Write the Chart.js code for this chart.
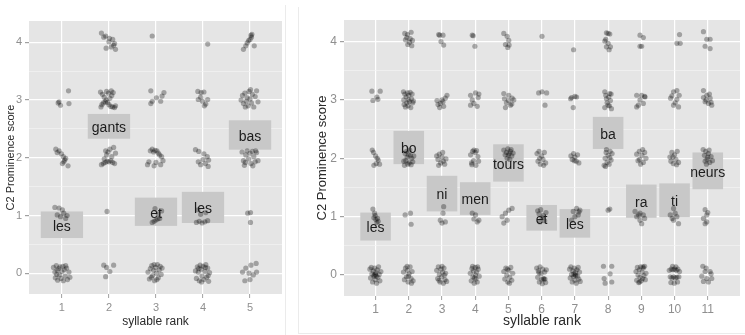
<!DOCTYPE html>
<html>
<head>
<meta charset="utf-8">
<script src="https://cdn.jsdelivr.net/npm/chart.js@4.4.0/dist/chart.umd.min.js"></script>
<style>
  body { margin: 0; background: #fff; width: 745px; height: 335px; position: relative; overflow: hidden; }
  .panel { position: absolute; top: 0; height: 335px; }
  #leftBox { left: 0; width: 286px; }
  #rightBox { left: 298px; width: 447px; }
  .rule { position: absolute; background: #ebebeb; }
</style>
</head>
<body>
<div class="panel" id="leftBox"><canvas id="left"></canvas></div>
<div class="panel" id="rightBox"><canvas id="right"></canvas></div>
<div class="rule" style="left:285px;top:5px;width:1px;height:330px"></div>
<div class="rule" style="left:298px;top:7px;width:1px;height:326px"></div>
<div class="rule" style="left:298px;top:333px;width:447px;height:1px"></div>
<script>
// tick values
var leftRanks = [1, 2, 3, 4, 5];
var rightRanks = [1, 2, 3, 4, 5, 6, 7, 8, 9, 10, 11];
var scoreTicks = [0, 1, 2, 3, 4];

// jittered observations [syllable rank, score] - left figure
var leftPoints = [
  // rank 1
  [0.82,0.10],[0.85,0.02],[0.86,-0.08],[0.88,0.13],[0.90,0.05],[0.91,-0.12],[0.93,0.08],[0.95,-0.03],[0.96,0.11],[0.98,-0.09],
  [1.00,0.03],[1.02,0.12],[1.03,-0.13],[1.05,0.06],[1.07,-0.05],[1.10,0.09],[1.12,-0.11],[1.15,0.02],[1.17,-0.07],[0.89,-0.02],[1.08,0.13],
  [0.85,1.14],[0.94,1.13],[1.01,1.10],[1.04,1.04],[0.97,0.98],[1.08,0.95],[0.90,1.01],[1.11,1.00],
  [0.87,2.15],[0.94,2.12],[0.99,2.07],[1.03,2.02],[1.06,1.96],[1.01,1.90],[1.13,1.86],[0.90,2.09],[1.08,1.99],[1.04,1.93],
  [0.94,2.97],[0.97,2.91],[1.14,3.16],[1.15,2.94],[0.92,2.95],
  // rank 2
  [1.89,0.14],[1.95,0.10],[2.10,0.14],[1.93,-0.06],[2.02,0.03],
  [1.96,1.07],
  [1.84,1.88],[1.88,1.90],[1.92,1.92],[1.96,1.94],[2.00,1.93],[2.04,1.95],[2.08,1.92],[2.12,1.90],[1.95,2.05],[1.98,2.10],
  [2.02,2.15],[2.10,2.18],[1.93,2.12],[2.06,2.02],[1.90,1.98],[2.14,2.08],
  [1.82,3.14],[1.86,3.10],[1.90,3.05],[1.94,3.00],[1.97,2.96],[2.00,2.92],[2.04,2.89],[2.08,2.88],[2.12,2.87],[1.85,2.92],
  [1.88,2.95],[1.92,2.97],[2.02,3.03],[2.06,3.08],[2.09,3.13],[1.95,3.15],[1.99,3.12],[2.14,2.90],[1.83,2.88],[2.05,3.16],
  [1.84,4.16],[1.93,4.11],[2.01,4.07],[2.08,4.05],[2.00,4.01],[2.12,3.98],[2.05,3.92],[1.94,3.90],[2.14,3.88],[2.10,3.95],[1.89,4.09],
  // rank 3
  [2.83,0.02],[2.86,-0.10],[2.88,0.08],[2.91,0.13],[2.93,-0.04],[2.95,0.05],[2.97,-0.13],[2.99,0.10],[3.01,0.00],[3.03,0.15],
  [3.05,-0.08],[3.07,0.06],[3.09,0.12],[3.11,-0.02],[3.13,0.09],[2.96,0.15],[3.02,-0.11],[2.90,-0.07],
  [2.92,0.88],[2.96,0.90],[3.00,0.92],[3.04,0.94],[3.08,0.95],[3.12,1.08],[2.98,1.12],[3.05,1.03],
  [2.82,1.88],[2.85,1.93],[2.88,2.12],[2.92,2.15],[2.95,2.10],[2.98,2.13],[3.02,2.12],[3.05,2.08],[3.08,2.05],[3.12,2.02],
  [3.15,1.95],[3.10,1.88],[2.96,1.86],[3.00,1.92],
  [2.89,3.16],[2.92,2.98],[2.89,2.94],[3.01,3.04],[3.10,2.98],[3.13,3.07],[3.17,3.13],
  [2.92,4.11],
  // rank 4
  [3.84,0.04],[3.86,-0.09],[3.88,0.11],[3.90,0.02],[3.92,-0.13],[3.94,0.14],[3.96,0.07],[3.98,-0.05],[4.00,0.12],[4.02,-0.11],
  [4.04,0.03],[4.06,0.15],[4.08,-0.07],[4.10,0.09],[4.12,-0.14],[4.14,0.01],[3.97,-0.15],[4.05,0.10],[3.91,0.08],[4.11,-0.04],
  [3.86,0.88],[3.92,0.90],[3.98,0.87],[4.04,0.89],[4.10,0.91],[3.95,1.02],[4.06,1.05],[3.89,1.10],
  [3.84,2.14],[3.91,2.11],[4.02,2.07],[4.09,2.02],[4.12,1.96],[4.05,1.90],[3.95,1.88],[3.90,1.93],[4.11,1.85],[4.00,1.97],
  [3.89,3.15],[3.96,3.13],[4.02,3.14],[3.90,3.01],[3.99,2.98],[4.06,2.93],[4.10,3.01],[3.95,3.05],[4.03,2.90],
  [4.10,3.97],
  // rank 5
  [4.84,0.02],[4.91,0.09],[4.98,0.00],[5.02,0.14],[5.13,0.17],[5.14,0.02],[4.89,-0.13],[5.00,-0.11],[5.07,-0.03],
  [4.95,1.04],[5.01,1.05],[5.01,0.88],
  [4.83,2.10],[4.86,1.95],[4.88,1.87],[4.91,2.05],[4.94,2.12],[4.97,1.98],[5.00,2.08],[5.02,1.90],[5.05,2.11],[5.08,2.02],
  [5.11,1.93],[5.14,2.09],[5.17,1.95],[4.90,1.92],[5.06,1.86],[5.12,2.12],
  [4.81,3.00],[4.84,3.08],[4.86,2.94],[4.89,3.12],[4.92,2.98],[4.94,3.04],[4.96,2.90],[4.98,3.15],[5.00,3.02],[5.03,2.95],
  [5.05,3.10],[5.08,2.88],[5.11,3.06],[5.14,3.16],[5.17,2.97],[4.90,2.88],[5.01,3.18],
  [4.86,3.88],[4.91,3.94],[4.94,3.99],[4.97,4.03],[5.00,4.05],[5.03,4.09],[5.04,4.14],[5.02,4.12],[5.09,3.94]
];

// jittered observations [syllable rank, score] - right figure
var rightPoints = [
  // rank 1
  [0.83,0.10],[0.85,-0.05],[0.87,0.13],[0.89,0.02],[0.91,-0.12],[0.93,0.07],[0.95,-0.02],[0.97,0.12],[0.99,-0.08],[1.01,0.04],
  [1.03,-0.14],[1.05,0.09],[1.07,-0.04],[1.09,0.14],[1.11,0.01],[1.13,-0.10],[1.16,0.06],[0.96,0.00],[1.00,0.01],[1.02,-0.02],
  [0.92,1.13],[0.97,1.06],[0.95,0.98],[1.01,0.95],[1.04,0.90],[1.08,0.92],[0.99,1.02],[1.06,0.97],
  [0.90,2.14],[0.94,2.10],[1.00,2.04],[1.08,1.97],[1.02,1.91],[0.95,1.88],[1.12,1.90],[1.05,2.00],
  [0.89,3.15],[1.14,3.15],[1.04,3.05],[0.92,2.99],[1.07,3.01],
  // rank 2
  [1.84,0.05],[1.87,-0.08],[1.90,0.12],[1.93,-0.03],[1.96,0.08],[1.98,-0.12],[2.01,0.02],[2.04,0.14],[2.07,-0.06],[2.10,0.06],
  [2.13,-0.10],[1.95,0.15],[2.08,-0.14],[1.99,-0.02],
  [1.89,1.03],[2.05,1.06],[2.07,0.87],
  [1.85,1.95],[1.89,2.08],[1.93,2.12],[1.97,1.90],[2.01,1.92],[2.05,2.05],[2.09,2.00],[2.12,1.94],[1.87,1.88],[1.95,2.02],
  [2.03,2.14],[2.07,1.89],[1.91,1.96],[1.99,2.06],[2.15,2.04],
  [1.84,3.14],[1.88,3.10],[1.92,3.05],[1.96,3.12],[2.00,3.08],[2.04,3.13],[2.08,3.02],[2.12,2.95],[1.86,2.92],[1.90,2.88],
  [1.94,2.95],[1.98,2.90],[2.02,2.97],[2.06,2.87],[2.10,3.10],[1.85,3.00],[2.14,2.98],[1.99,3.00],
  [1.88,4.14],[1.96,4.12],[2.07,4.16],[1.90,4.03],[2.04,4.05],[1.97,3.95],[2.09,3.93],[2.02,3.99],[1.94,4.07],[2.11,4.02],
  // rank 3
  [2.84,0.08],[2.87,-0.06],[2.89,0.14],[2.92,0.01],[2.94,-0.12],[2.97,0.10],[2.99,-0.03],[3.02,0.05],[3.04,-0.14],[3.06,0.12],
  [3.09,-0.08],[3.11,0.03],[3.14,-0.11],[2.91,-0.09],[3.00,0.15],[3.07,0.00],
  [3.05,1.17],[3.03,1.06],[2.95,0.94],[3.10,0.91],[3.00,0.89],
  [2.84,2.04],[2.88,1.98],[2.92,2.07],[2.96,1.92],[3.00,2.02],[3.04,1.95],[3.08,1.90],[3.12,1.99],[2.90,1.88],[3.02,2.10],
  [2.85,2.99],[2.95,2.94],[3.03,2.97],[3.10,3.03],[3.05,2.89],[2.93,2.87],[3.15,3.08],[2.88,2.92],[3.00,3.00],
  [2.90,4.12],[3.03,4.11],[2.97,4.00],[3.05,3.94],[2.93,4.11],
  // rank 4
  [3.85,0.03],[3.88,-0.10],[3.90,0.11],[3.93,-0.03],[3.95,0.07],[3.97,-0.14],[4.00,0.13],[4.02,-0.07],[4.04,0.05],[4.06,-0.12],
  [4.09,0.10],[4.12,-0.02],[3.92,0.15],[4.01,0.00],[3.98,-0.05],[4.07,0.14],
  [3.91,1.06],[4.01,1.03],[4.11,0.94],[4.06,0.91],[3.96,0.96],
  [3.86,2.06],[3.89,1.92],[3.92,2.12],[3.96,2.14],[4.00,2.10],[4.04,2.13],[4.08,2.03],[3.95,1.96],[4.02,1.88],[4.10,1.95],[3.90,1.89],
  [3.86,3.08],[4.01,3.12],[4.11,3.10],[3.91,3.00],[3.86,2.91],[4.06,2.89],[3.96,2.94],[4.09,3.04],
  [3.91,4.11],[3.99,3.92],[3.94,4.10],
  // rank 5
  [4.86,0.06],[4.89,-0.07],[4.92,0.12],[4.95,0.00],[4.98,-0.12],[5.01,0.08],[5.04,-0.04],[5.07,0.13],[5.10,-0.09],[5.13,0.03],
  [4.97,0.10],[5.03,-0.14],
  [4.81,1.00],[4.91,1.06],[5.01,1.11],[5.11,1.14],[4.86,0.89],[4.96,0.94],
  [4.86,2.14],[4.90,2.06],[4.94,2.10],[4.98,2.16],[5.02,2.08],[5.06,2.12],[5.10,2.04],[5.14,2.09],[4.96,2.00],[5.04,1.98],
  [5.00,2.05],[5.08,2.15],
  [4.86,3.11],[5.01,3.08],[5.11,3.03],[5.16,3.00],[4.94,2.95],[5.06,2.91],[4.91,2.87],[5.00,2.99],[5.10,2.93],[4.88,3.02],
  [4.86,4.14],[4.96,4.09],[5.01,4.02],[4.91,3.95],[4.98,3.90],[5.02,3.94],
  // rank 6
  [5.85,0.12],[5.88,-0.04],[5.90,0.07],[5.93,-0.12],[5.95,0.14],[5.98,0.02],[6.00,-0.08],[6.03,0.10],[6.05,-0.06],[6.07,-0.07],
  [6.09,0.05],[6.12,-0.13],[6.14,0.09],[5.92,0.04],[6.02,-0.15],[6.10,-0.07],
  [5.88,1.10],[5.92,1.05],[5.97,1.12],[6.01,0.98],[6.05,1.02],[6.09,0.93],[6.13,1.07],[5.95,0.91],
  [5.86,2.08],[5.89,1.95],[5.92,2.12],[5.96,1.90],[6.00,2.04],[6.04,1.98],[6.08,2.10],[6.12,1.92],[5.94,2.00],[6.06,1.88],
  [5.91,3.12],[6.01,3.14],[6.15,3.12],[6.10,2.91],
  [6.01,4.09],
  // rank 7
  [6.84,0.10],[6.86,-0.05],[6.88,0.14],[6.90,0.01],[6.92,-0.12],[6.94,0.07],[6.96,-0.03],[6.98,0.12],[7.00,-0.09],[7.02,0.04],
  [7.04,-0.14],[7.06,0.09],[7.08,-0.02],[7.10,0.13],[7.12,-0.07],[7.14,0.05],[7.16,-0.11],[6.97,0.02],[7.03,-0.01],[7.01,0.00],
  [7.05,1.14],[7.15,1.11],[6.95,1.09],[7.10,1.03],[7.00,1.00],[6.90,0.94],[7.12,1.08],
  [6.88,2.04],[6.92,1.98],[6.96,2.08],[7.00,2.02],[7.04,1.95],[7.08,2.06],[7.12,1.92],[6.98,1.96],
  [6.90,3.04],[7.00,3.06],[6.95,2.87],[6.87,3.02],[7.05,3.05],
  [6.96,3.86],
  // rank 8
  [7.86,0.15],[8.11,0.15],[8.06,0.02],[7.88,-0.06],[8.11,-0.12],[7.91,-0.14],
  [8.05,1.13],[8.00,1.11],
  [7.88,1.88],[7.91,2.00],[7.94,2.10],[7.97,1.93],[8.00,2.05],[8.03,1.90],[8.06,2.12],[8.09,1.97],[8.12,2.08],[7.95,2.15],
  [8.05,2.01],[7.92,1.86],
  [7.90,3.14],[8.05,3.11],[7.95,3.02],[8.07,2.99],[8.00,2.91],[7.90,2.87],[8.10,2.85],[7.93,3.08],[8.02,3.05],[8.09,3.10],
  [7.97,2.95],[8.04,2.90],
  [7.95,4.15],[8.05,4.13],[8.00,4.14],[7.90,4.01],[8.00,3.97],[8.07,3.91],[7.95,3.91],[8.03,3.86],[7.93,4.04],
  // rank 9
  [8.84,0.06],[8.86,-0.09],[8.88,0.13],[8.90,0.00],[8.92,-0.13],[8.94,0.09],[8.96,-0.04],[8.98,0.14],[9.00,-0.10],[9.02,0.05],
  [9.04,-0.06],[9.06,0.12],[9.08,-0.01],[9.10,0.15],[9.12,-0.08],[9.14,0.03],[8.95,-0.12],[9.05,0.14],
  [8.81,1.09],[8.96,1.06],[9.06,1.03],[8.86,1.00],[8.96,0.94],[9.01,0.88],[9.10,0.97],[8.92,1.03],
  [8.86,2.07],[8.90,1.96],[8.94,2.12],[8.98,1.90],[9.02,2.05],[9.06,1.93],[9.10,2.10],[9.14,2.00],[8.95,1.98],[9.04,2.15],
  [8.86,3.08],[9.01,3.08],[9.11,3.05],[8.96,3.00],[8.91,2.91],[8.86,2.88],[9.06,2.94],[9.10,3.06],
  [8.96,4.11],[9.06,4.07],[8.96,3.92],[9.01,3.92],
  // rank 10
  [9.84,0.08],[9.87,-0.03],[9.90,0.10],[9.92,-0.05],[9.95,0.09],[9.97,-0.03],[10.00,0.10],[10.02,-0.05],[10.05,0.08],[10.07,-0.04],
  [10.10,0.10],[10.13,-0.03],[9.89,-0.13],[9.99,-0.14],[10.09,-0.12],[9.94,0.15],[10.04,0.14],[10.15,0.06],
  [9.97,1.14],[9.87,1.03],[10.07,1.00],[9.97,0.94],[10.12,0.88],[10.02,1.06],[9.93,0.97],
  [9.86,2.02],[9.89,1.95],[9.92,2.10],[9.96,1.91],[10.00,2.06],[10.04,1.98],[10.08,2.12],[10.12,1.93],[9.95,2.02],[10.06,1.89],
  [9.97,3.14],[10.07,3.16],[9.92,3.07],[10.07,3.01],[9.97,2.91],[10.12,2.88],[9.88,3.03],[10.14,3.08],[10.02,2.95],
  [10.15,4.12],[10.07,3.97],[10.17,3.97],
  // rank 11
  [10.85,0.15],[10.92,0.06],[11.07,0.06],[10.82,-0.02],[10.97,-0.06],[11.12,-0.06],[10.87,-0.11],[11.02,-0.12],[10.95,0.12],[11.10,0.02],
  [10.92,1.12],[10.97,1.03],[10.87,0.97],[10.97,0.91],[10.92,0.88],[11.00,1.07],
  [10.86,2.15],[10.90,2.05],[10.94,2.12],[10.98,1.98],[11.02,2.08],[11.06,1.93],[11.10,2.03],[11.14,1.96],[10.96,1.90],[11.04,2.14],
  [10.92,1.95],[11.00,2.02],
  [10.87,3.16],[10.97,3.08],[11.07,3.03],[10.92,2.97],[11.02,2.94],[11.12,2.91],[10.87,3.04],[11.05,3.10],[10.95,3.00],[11.10,2.96],
  [10.87,4.17],[10.97,4.04],[11.07,4.04],[10.92,3.92],[11.07,3.88]
];

// syllable labels: rank, and the score span of the box behind each word
var leftWords = [
  { text: 'les',   x: 1, lo: 0.61, hi: 1.07 },
  { text: 'gants', x: 2, lo: 2.33, hi: 2.76 },
  { text: 'et',    x: 3, lo: 0.82, hi: 1.31 },
  { text: 'les',   x: 4, lo: 0.87, hi: 1.41 },
  { text: 'bas',   x: 5, lo: 2.14, hi: 2.65 }
];
var rightWords = [
  { text: 'les',   x: 1,  lo: 0.59, hi: 1.07 },
  { text: 'bo',    x: 2,  lo: 1.90, hi: 2.47 },
  { text: 'ni',    x: 3,  lo: 1.09, hi: 1.70 },
  { text: 'men',   x: 4,  lo: 1.03, hi: 1.59 },
  { text: 'tours', x: 5,  lo: 1.60, hi: 2.24 },
  { text: 'et',    x: 6,  lo: 0.76, hi: 1.20 },
  { text: 'les',   x: 7,  lo: 0.64, hi: 1.13 },
  { text: 'ba',    x: 8,  lo: 2.16, hi: 2.71 },
  { text: 'ra',    x: 9,  lo: 0.98, hi: 1.55 },
  { text: 'ti',    x: 10, lo: 0.99, hi: 1.57 },
  { text: 'neurs', x: 11, lo: 1.47, hi: 2.10 }
];

var FONT = '"Liberation Sans", Arial, sans-serif';

// grey panel background like ggplot
var panelBg = {
  id: 'panelBg',
  beforeDraw: function(chart) {
    var a = chart.chartArea, ctx = chart.ctx;
    ctx.save();
    ctx.fillStyle = '#e5e5e5';
    ctx.fillRect(a.left, a.top, a.right - a.left, a.bottom - a.top);
    ctx.restore();
  }
};

// grey boxes under the points, words on top
var wordBoxes = {
  id: 'wordBoxes',
  beforeDatasetsDraw: function(chart, args, opts) {
    var ctx = chart.ctx, x = chart.scales.x, y = chart.scales.y;
    ctx.save();
    ctx.fillStyle = '#c8c8c8';
    opts.words.forEach(function(w) {
      var l = x.getPixelForValue(w.x - opts.half), r = x.getPixelForValue(w.x + opts.half);
      var t = y.getPixelForValue(w.hi), b = y.getPixelForValue(w.lo);
      ctx.fillRect(l, t, r - l, b - t);
    });
    ctx.restore();
  },
  afterDatasetsDraw: function(chart, args, opts) {
    var ctx = chart.ctx, x = chart.scales.x, y = chart.scales.y;
    ctx.save();
    ctx.fillStyle = '#1c1c1c';
    ctx.font = opts.size + 'px ' + FONT;
    ctx.textAlign = 'center';
    ctx.textBaseline = 'middle';
    opts.words.forEach(function(w) {
      var cy = (y.getPixelForValue(w.hi) + y.getPixelForValue(w.lo)) / 2;
      ctx.fillText(w.text, x.getPixelForValue(w.x), cy + 2);
    });
    ctx.restore();
  }
};

function makePanel(id, points, ranks, words, cfg) {
  var ySteps = [];
  scoreTicks.forEach(function(v, i) {
    ySteps.push(v);
    if (i < scoreTicks.length - 1) ySteps.push(v + 0.5);
  });
  return new Chart(document.getElementById(id), {
    type: 'scatter',
    data: {
      datasets: [{
        data: points.map(function(p) { return { x: p[0], y: p[1] }; }),
        pointRadius: 2.6,
        pointBackgroundColor: 'rgba(0,0,0,0.3)',
        pointBorderWidth: 0
      }]
    },
    options: {
      responsive: true,
      maintainAspectRatio: false,
      animation: false,
      events: [],
      layout: { padding: { top: cfg.top, right: cfg.right, left: 0, bottom: 0 } },
      plugins: {
        legend: { display: false },
        tooltip: { enabled: false },
        wordBoxes: { words: words, half: cfg.half, size: 14 }
      },
      scales: {
        x: {
          type: 'linear',
          min: cfg.xmin, max: cfg.xmax,
          afterBuildTicks: function(s) { s.ticks = ranks.map(function(v) { return { value: v }; }); },
          afterFit: function(s) { s.height = cfg.xHeight; },
          border: { display: false },
          grid: { color: '#ffffff', lineWidth: 1.2, tickLength: 4, tickColor: '#a0a0a0', tickWidth: 1 },
          ticks: { color: '#8f8f8f', font: { family: FONT, size: cfg.tickSize }, padding: cfg.xPad, maxRotation: 0, autoSkip: false },
          title: { display: true, text: 'syllable rank', color: '#2a2a2a',
                   font: { family: FONT, size: cfg.xTitleSize }, padding: { top: 0, bottom: cfg.xTitlePad } }
        },
        y: {
          min: -0.36, max: 4.37,
          afterBuildTicks: function(s) { s.ticks = ySteps.map(function(v) { return { value: v }; }); },
          afterFit: function(s) { s.width = cfg.yWidth; },
          border: { display: false },
          grid: {
            color: function(c) { return Number.isInteger(c.tick.value) ? '#ffffff' : '#f3f3f3'; },
            lineWidth: function(c) { return Number.isInteger(c.tick.value) ? 1.2 : 0.7; },
            tickLength: 4,
            tickColor: function(c) { return Number.isInteger(c.tick.value) ? '#a0a0a0' : 'rgba(0,0,0,0)'; }
          },
          ticks: {
            color: '#8f8f8f', font: { family: FONT, size: cfg.tickSize }, padding: 3, autoSkip: false,
            callback: function(v) { return Number.isInteger(v) ? String(v) : ''; }
          },
          title: { display: true, text: 'C2 Prominence score', color: '#2a2a2a',
                   font: { family: FONT, size: cfg.yTitleSize }, padding: { top: cfg.yTitlePad, bottom: 0 } }
        }
      }
    },
    plugins: [panelBg, wordBoxes]
  });
}

makePanel('left', leftPoints, leftRanks, leftWords, {
  top: 21, right: 2, xmin: 0.3, xmax: 5.68, half: 0.45,
  xHeight: 41, yWidth: 29, tickSize: 11, xPad: 3,
  xTitleSize: 12, xTitlePad: 6, yTitleSize: 11, yTitlePad: 4
});
makePanel('right', rightPoints, rightRanks, rightWords, {
  top: 20, right: 5, xmin: 0.05, xmax: 11.97, half: 0.46,
  xHeight: 39, yWidth: 46, tickSize: 12, xPad: 2,
  xTitleSize: 14, xTitlePad: 5, yTitleSize: 13, yTitlePad: 17
});
</script>
</body>
</html>
